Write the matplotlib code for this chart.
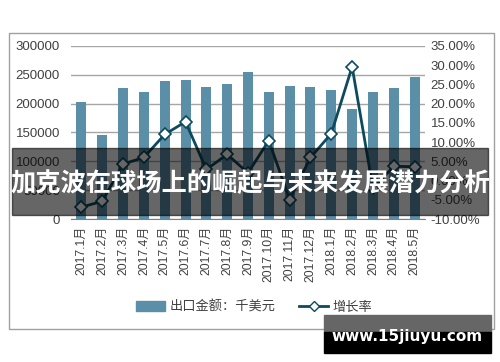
import matplotlib.pyplot as plt
from matplotlib.patches import Rectangle
from matplotlib.lines import Line2D
from matplotlib.ticker import FuncFormatter

# 出口金额 (千美元) and 增长率 (%)
months = ['2017.1月', '2017.2月', '2017.3月', '2017.4月', '2017.5月', '2017.6月',
          '2017.7月', '2017.8月', '2017.9月', '2017.10月', '2017.11月', '2017.12月',
          '2018.1月', '2018.2月', '2018.3月', '2018.4月', '2018.5月']
exports = [202000, 146000, 228000, 220000, 239000, 241000, 229000, 234000, 255000,
           221000, 231000, 229000, 224000, 190000, 220000, 228000, 246000]
growth = [-6.9, -5.4, 4.3, 6.0, 12.0, 15.3, 2.9, 6.8, 2.0,
          10.4, -5.0, 6.0, 12.2, 29.6, -2.0, 3.7, 3.6]

title = '加克波在球场上的崛起与未来发展潜力分析'
watermark = 'www.15jiuyu.com'

plt.rcParams['font.family'] = ['Liberation Sans', 'Noto Sans CJK SC', 'DejaVu Sans']

bar_color = '#5b8fa8'
line_color = '#0d4a5e'
text_color = '#404040'

fig = plt.figure(figsize=(5, 3.62), dpi=100)
ax = fig.add_axes([0.142, 0.395, 0.708, 0.478])

x = list(range(len(months)))
ax.bar(x, exports, width=0.48, color=bar_color, zorder=2)
ax.set_ylim(0, 300000)
ax.set_yticks(range(0, 300001, 50000))
ax.set_xlim(-0.5, len(months) - 0.5)
ax.set_xticks(x)
ax.set_xticklabels(months, rotation=90, fontsize=8.7, color=text_color)
ax.tick_params(axis='y', labelsize=9.5, labelcolor=text_color, length=0, pad=8)
ax.tick_params(axis='x', length=0, pad=5)
ax.grid(axis='y', color='#a6a6a6', linewidth=1, zorder=0)
for s in ['top', 'right', 'left']:
    ax.spines[s].set_visible(False)
ax.spines['bottom'].set_color('#808080')

ax2 = ax.twinx()
ax2.plot(x, growth, color=line_color, linewidth=2, marker='D', markersize=6,
         markerfacecolor='white', markeredgecolor=line_color, markeredgewidth=1.2, zorder=3)
ax2.set_ylim(-10, 35)
ax2.set_yticks(range(-10, 36, 5))
ax2.yaxis.set_major_formatter(FuncFormatter(lambda v, p: '%.2f%%' % v))
ax2.tick_params(axis='y', labelsize=9.5, labelcolor=text_color, length=0, pad=4)
for s in ['top', 'right', 'left', 'bottom']:
    ax2.spines[s].set_visible(False)

handles = [Rectangle((0, 0), 1, 1, color=bar_color),
           Line2D([], [], color=line_color, linewidth=2, marker='D', markersize=5,
                  markerfacecolor='white', markeredgecolor=line_color)]
fig.legend(handles, ['出口金额：千美元', '增长率'], loc='center', ncol=2,
           bbox_to_anchor=(0.508, 0.152), frameon=False, fontsize=9.5,
           handlelength=2.2, handletextpad=0.3, columnspacing=1.8,
           labelcolor=text_color)

# chart frame
fig.patches.append(Rectangle((9 / 500, 1 - 329 / 362), 485 / 500, 296 / 362,
                             transform=fig.transFigure, fill=False,
                             edgecolor='#a0a0a0', linewidth=1, zorder=1))

# title banner over the chart
fig.patches.append(Rectangle((12 / 500, 1 - 215 / 362), 476 / 500, 67 / 362,
                             transform=fig.transFigure, color='black', alpha=0.6,
                             zorder=5))
fig.text(0.5, 1 - 184 / 362, title, ha='center', va='center', color='white',
         fontsize=18.2, fontweight='bold', family=['Noto Sans CJK SC'], zorder=6)

# watermark
fig.patches.append(Rectangle((324 / 500, 1 - 332 / 362), 167 / 500, 17 / 362,
                             transform=fig.transFigure, color='#666666', zorder=5))
fig.patches.append(Rectangle((324 / 500, 1 - 353 / 362), 167 / 500, 21 / 362,
                             transform=fig.transFigure, color='black', zorder=5))
fig.text(407 / 500, 1 - 337 / 362, watermark, ha='center', va='center', color='white',
         fontsize=11, fontweight='bold', family=['DejaVu Sans'], zorder=6)

fig.savefig('out.png', dpi=100)
